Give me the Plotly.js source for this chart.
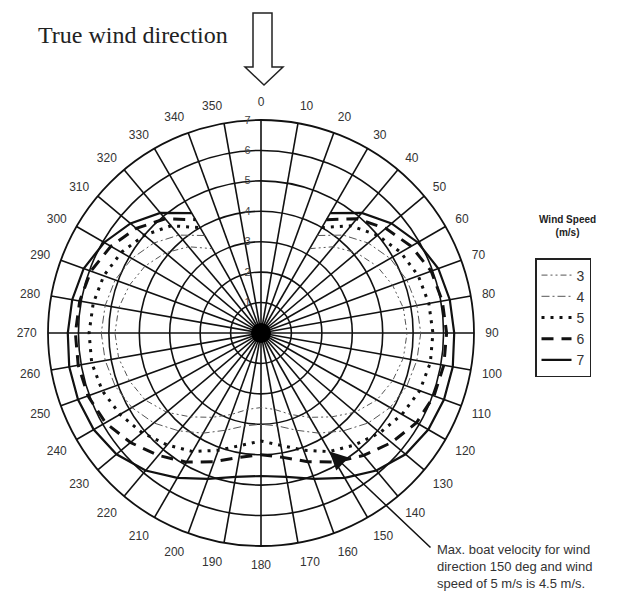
<!DOCTYPE html>
<html>
<head>
<meta charset="utf-8">
<script src="https://cdn.plot.ly/plotly-3.0.1.min.js"></script>
<style>html,body{margin:0;padding:0;background:#fff;}#chart{width:643px;height:599px;}</style>
</head>
<body>
<div id="chart"></div>
<script>
// ---- data ----
const windSpeeds = ['3', '4', '5', '6', '7'];
const thetaDeg = [30, 40, 50, 60, 70, 80, 90, 100, 110, 120, 130, 140, 150, 160, 170, 180,
                  190, 200, 210, 220, 230, 240, 250, 260, 270, 280, 290, 300, 310, 320, 330];
const speed3 = [3.2, 3.7, 4.1, 4.4, 4.6, 4.75, 4.8, 4.75, 4.6, 4.4, 4.05, 3.6, 3.2, 2.85, 2.55, 2.45,
                2.55, 2.85, 3.2, 3.6, 4.05, 4.4, 4.6, 4.75, 4.8, 4.75, 4.6, 4.4, 4.1, 3.7, 3.2];
const speed4 = [3.7, 4.2, 4.6, 4.9, 5.1, 5.2, 5.25, 5.2, 5.1, 4.9, 4.6, 4.2, 3.8, 3.4, 3.1, 3.0,
                3.1, 3.4, 3.8, 4.2, 4.6, 4.9, 5.1, 5.2, 5.25, 5.2, 5.1, 4.9, 4.6, 4.2, 3.7];
const speed5 = [4.0, 4.6, 5.0, 5.3, 5.5, 5.6, 5.65, 5.65, 5.55, 5.35, 5.1, 4.8, 4.5, 4.1, 3.75, 3.55,
                3.75, 4.1, 4.5, 4.8, 5.1, 5.35, 5.55, 5.65, 5.65, 5.6, 5.5, 5.3, 5.0, 4.6, 4.0];
const speed6 = [4.3, 4.9, 5.35, 5.7, 5.95, 6.05, 6.1, 6.1, 6.05, 5.9, 5.6, 5.25, 4.9, 4.5, 4.15, 4.0,
                4.15, 4.5, 4.9, 5.25, 5.6, 5.9, 6.05, 6.1, 6.1, 6.05, 5.95, 5.7, 5.35, 4.9, 4.3];
const speed7 = [4.55, 5.15, 5.6, 5.95, 6.2, 6.3, 6.35, 6.4, 6.4, 6.35, 6.2, 5.9, 5.5, 5.1, 4.8, 4.7,
                4.8, 5.1, 5.5, 5.9, 6.2, 6.35, 6.4, 6.4, 6.35, 6.3, 6.2, 5.95, 5.6, 5.15, 4.55];
const angularTicks = [0,10,20,30,40,50,60,70,80,90,100,110,120,130,140,150,160,170,
                      180,190,200,210,220,230,240,250,260,270,280,290,300,310,320,330,340,350];
const radialTicks = [1, 2, 3, 4, 5, 6, 7];
const maxPointTheta = [150];
const maxPointR = [4.5];

// ---- layout geometry ----
const W = 643, H = 599;
const CX = 261, CY = 333, RPX = 213, RMAX = 7;
const px2x = p => p / W;
const px2y = p => 1 - p / H;
function polarToPx(r, th) {
  const a = th * Math.PI / 180;
  return [CX + r / RMAX * RPX * Math.sin(a), CY - r / RMAX * RPX * Math.cos(a)];
}

const seriesVals = [speed3, speed4, speed5, speed6, speed7];
const styles = [
  {color: '#555', width: 1, dash: '6px,3px,2px,3px,2px,3px'},
  {color: '#555', width: 1, dash: '8px,3px,2px,3px'},
  {color: '#111', width: 3, dash: '3px,6px'},
  {color: '#111', width: 3, dash: '12px,8px'},
  {color: '#111', width: 2.2, dash: 'solid'}
];
const traces = seriesVals.map((vals, i) => ({
  type: 'scatterpolar', mode: 'lines', r: vals, theta: thetaDeg,
  name: windSpeeds[i], line: styles[i], hoverinfo: 'skip'
}));
traces.push({type: 'scatterpolar', mode: 'markers', r: [0], theta: [0], showlegend: false,
  marker: {size: 20, color: '#000'}, hoverinfo: 'skip'});

const tip = polarToPx(maxPointR[0], maxPointTheta[0]);

// hollow arrow for "true wind direction"
const arrowPts = [[253,13],[272,13],[272,67],[283,67],[264,85],[245,67],[253,67]];
const arrowPath = 'M ' + arrowPts.map(p => px2x(p[0]) + ' ' + px2y(p[1])).join(' L ') + ' Z';

const layout = {
  width: W, height: H,
  margin: {l: 0, r: 0, t: 0, b: 0},
  paper_bgcolor: '#fff',
  showlegend: true,
  font: {family: 'Liberation Sans, Arial, sans-serif', color: '#333'},
  title: {text: 'True wind direction', font: {family: 'Liberation Serif, Times New Roman, serif', size: 24, color: '#222'},
          x: px2x(38), xanchor: 'left', xref: 'paper', y: px2y(35), yanchor: 'middle'},
  polar: {
    domain: {x: [px2x(CX - RPX), px2x(CX + RPX)], y: [px2y(CY + RPX), px2y(CY - RPX)]},
    bgcolor: '#fff',
    angularaxis: {
      rotation: 90, direction: 'clockwise',
      tickmode: 'array', tickvals: angularTicks, ticktext: angularTicks.map(String),
      ticks: 'outside', ticklen: 8, tickcolor: 'rgba(0,0,0,0)',
      showline: true, linecolor: '#111', linewidth: 1.8,
      showgrid: true, gridcolor: '#111', gridwidth: 1.6,
      tickfont: {size: 12, color: '#333'}
    },
    radialaxis: {
      range: [0, RMAX], angle: 90, side: 'counterclockwise', tickangle: 90,
      tickmode: 'array', tickvals: radialTicks, ticktext: radialTicks.map(String),
      ticks: 'outside', ticklen: 6, tickcolor: 'rgba(0,0,0,0)',
      showline: false, showgrid: true, gridcolor: '#111', gridwidth: 1.6,
      tickfont: {size: 11, color: '#444'}
    }
  },
  legend: {
    x: px2x(535), y: px2y(258), xanchor: 'left', yanchor: 'top',
    bordercolor: '#222', borderwidth: 1.5, bgcolor: '#fff',
    font: {size: 14, color: '#333'}, itemwidth: 30, tracegroupgap: 0
  },
  shapes: [
    {type: 'path', path: arrowPath, xref: 'paper', yref: 'paper', line: {color: '#222', width: 1.5}, fillcolor: 'rgba(0,0,0,0)'}
  ],
  annotations: [
    {xref: 'paper', yref: 'paper', x: px2x(567), y: px2y(226), text: '<b>Wind Speed</b><br><b>(m/s)</b>',
     showarrow: false, font: {size: 10, color: '#222'}, xanchor: 'center', yanchor: 'middle'},
    {xref: 'paper', yref: 'paper', x: px2x(tip[0]), y: px2y(tip[1]), text: '',
     showarrow: true, arrowhead: 2, arrowsize: 2.4, arrowwidth: 1.5, arrowcolor: '#111',
     ax: 432 - tip[0], ay: 549 - tip[1], axref: 'pixel', ayref: 'pixel'},
    {xref: 'paper', yref: 'paper', x: px2x(435), y: px2y(540), xanchor: 'left', yanchor: 'top', align: 'left',
     text: 'Max. boat velocity for wind<br>direction 150 deg and wind<br>speed of 5 m/s is 4.5 m/s.',
     showarrow: false, font: {size: 13, color: '#333'}}
  ]
};

Plotly.newPlot('chart', traces, layout, {displayModeBar: false, staticPlot: true});
</script>
</body>
</html>
